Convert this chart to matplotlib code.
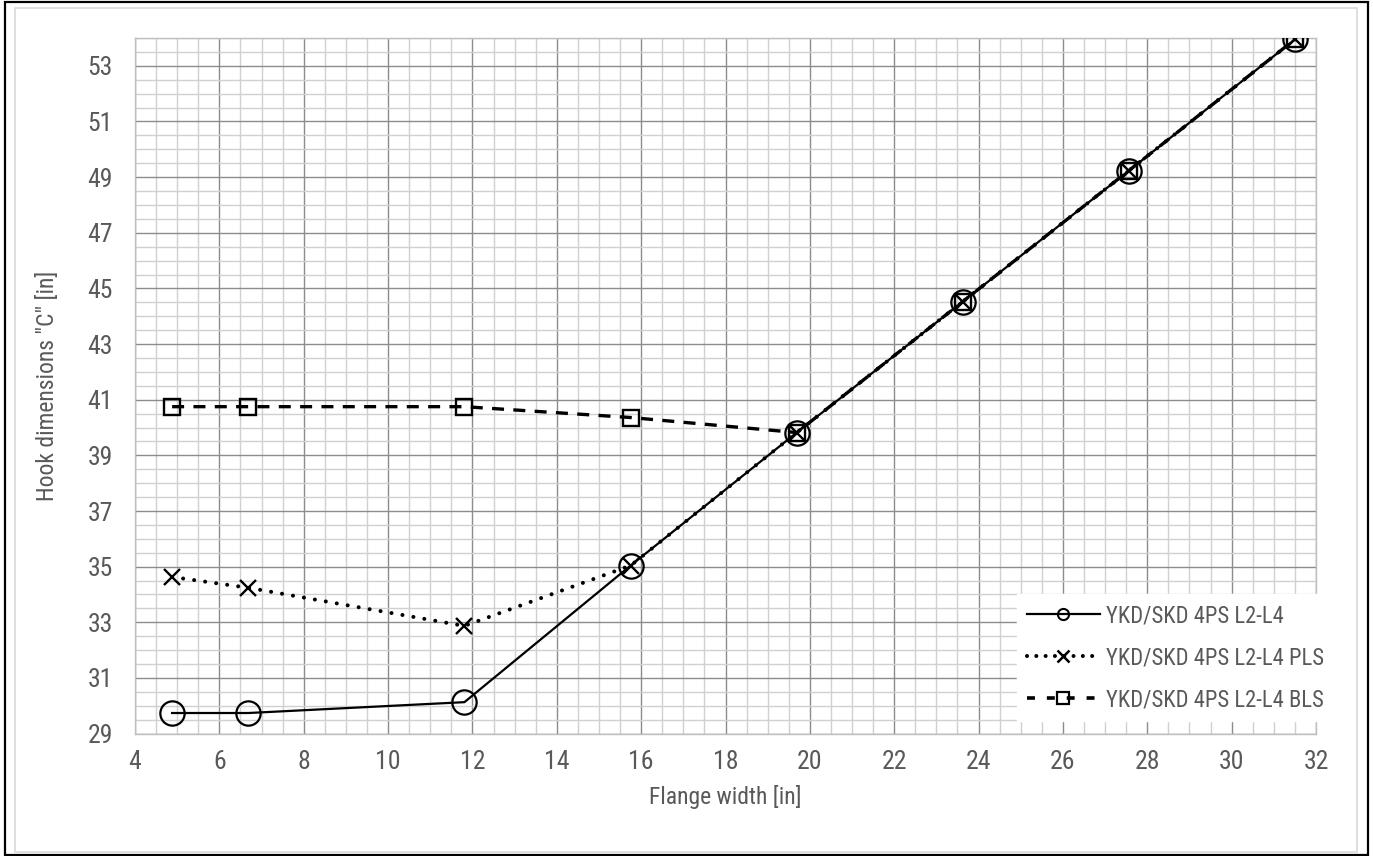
import matplotlib
matplotlib.use("Agg")
import matplotlib.pyplot as plt
from matplotlib.lines import Line2D
from matplotlib.patches import Rectangle
from matplotlib.ticker import MultipleLocator
from matplotlib import font_manager

# ---- data ----
flange_width = [4.88, 6.69, 11.81, 15.75, 19.69, 23.62, 27.56, 31.50]
hook_l2l4 = [29.74, 29.74, 30.13, 35.04, 39.82, 44.52, 49.23, 53.95]
hook_pls = [34.63, 34.24, 32.87, 35.04, 39.82, 44.52, 49.23, 53.95]
hook_bls = [40.75, 40.75, 40.75, 40.36, 39.82, 44.52, 49.23, 53.95]
series_names = ["YKD/SKD 4PS L2-L4", "YKD/SKD 4PS L2-L4 PLS", "YKD/SKD 4PS L2-L4 BLS"]
x_label = "Flange width [in]"
y_label = 'Hook dimensions "C" [in]'
x_ticks = list(range(4, 33, 2))
y_ticks = list(range(29, 54, 2))

avail = {f.name for f in font_manager.fontManager.ttflist}
fams = [f for f in ["Liberation Sans Narrow", "Roboto Condensed", "Open Sans Condensed",
                    "Liberation Sans"] if f in avail]
narrow = fams[0] if fams else "Liberation Sans"
plt.rcParams["font.family"] = [narrow, "DejaVu Sans"]
is_narrow = narrow != "Liberation Sans"

W, H = 1373, 856
fig = plt.figure(figsize=(W / 100, H / 100), dpi=100)
ax = fig.add_axes([135 / W, 1 - 733.6 / H, (1316 - 135) / W, (733.6 - 38) / H])

gray = "#595959"
tick_fs = 18.5 if is_narrow else 16.5
leg_fs = 16.3 if is_narrow else 14.3
lab_fs = 17 if is_narrow else 15.5

# grid
ax.set_xlim(4, 32)
ax.set_ylim(29, 54)
ax.set_xticks(x_ticks)
ax.set_yticks(y_ticks)
ax.xaxis.set_minor_locator(MultipleLocator(0.5))
ax.yaxis.set_minor_locator(MultipleLocator(0.5))
ax.grid(which="minor", color="#d0d0d0", lw=1.0, zorder=0)
ax.grid(which="major", color="#8c8c8c", lw=1.0, zorder=0)
ax.set_axisbelow(True)
ax.tick_params(which="both", length=0)
ax.tick_params(axis="x", pad=12, labelsize=tick_fs, labelcolor=gray)
ax.tick_params(axis="y", pad=16, labelsize=tick_fs, labelcolor=gray)
for s in ax.spines.values():
    s.set_color("#bfbfbf")
    s.set_linewidth(1.0)

# series
ax.plot(flange_width, hook_l2l4, color="black", lw=1.6, ls="-",
        marker="o", ms=17.5, mfc="none", mec="black", mew=1.6, zorder=3)
ax.plot(flange_width, hook_pls, color="black", lw=2.9, ls=(0, (0.01, 2.75)),
        dash_capstyle="round", marker="x", ms=12, mec="black", mew=1.7, zorder=4)
ax.plot(flange_width, hook_bls, color="black", lw=2.4, ls=(0, (3.6, 2.8)),
        dash_capstyle="butt", marker="s", ms=12, mfc="none", mec="black", mew=1.7, zorder=5)

ax.set_xlabel(x_label, fontsize=lab_fs, color=gray, labelpad=8)
ax.set_ylabel(y_label, fontsize=lab_fs, color=gray, labelpad=20)

# legend
handles = [
    Line2D([], [], color="black", lw=1.6, ls="-", marker="o", ms=8, mfc="none", mew=1.5),
    Line2D([], [], color="black", lw=2.9, ls=(0, (0.01, 2.3)), dash_capstyle="round",
           marker="x", ms=9, mew=1.8),
    Line2D([], [], color="black", lw=2.6, ls=(0, (2.2, 3.3)), dash_capstyle="butt",
           marker="s", ms=8, mfc="none", mew=1.6),
]
leg = fig.legend(handles, series_names, loc="upper left",
                 bbox_to_anchor=(1017 / W, 1 - 594 / H), bbox_transform=fig.transFigure,
                 frameon=True, fancybox=False, framealpha=1, facecolor="white",
                 edgecolor="white", fontsize=leg_fs, borderpad=0.45, handlelength=3.2,
                 handletextpad=0.3, labelspacing=0.84, borderaxespad=0)
for t in leg.get_texts():
    t.set_color(gray)
leg.set_zorder(10)

# chart border
fig.patches.append(Rectangle((15 / W, 4 / H), (1357 - 15) / W, (852 - 8) / H,
                             transform=fig.transFigure, fill=False, ec="#d9d9d9", lw=1.2))
fig.patches.append(Rectangle((5 / W, 1.5 / H), (1368 - 5) / W, (854.5 - 1.5) / H,
                             transform=fig.transFigure, fill=False, ec="black", lw=1.6))

fig.savefig("out.png", dpi=100)
